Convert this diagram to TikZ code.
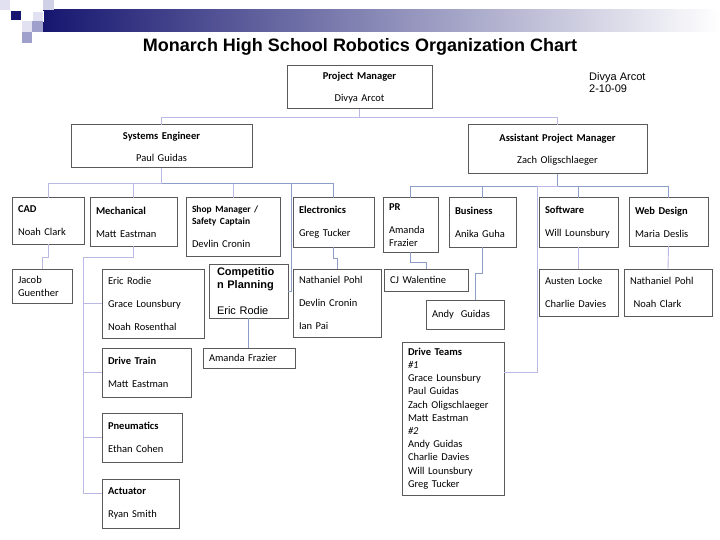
\documentclass[tikz,border=0pt]{standalone}
\usepackage{fontspec}
\setmainfont{Carlito}
\newfontfamily\arialfont{Liberation Sans}
\usepackage{tikz}
\usepackage{xcolor}

\definecolor{boxgray}{RGB}{90,90,90}
\definecolor{linkpale}{RGB}{185,185,228}
\definecolor{linkblue}{RGB}{140,158,200}
\definecolor{navybar}{RGB}{22,22,112}
\definecolor{sqpale}{RGB}{225,225,242}
\definecolor{sqmid}{RGB}{160,160,205}
\newcommand{\shophead}[1]{\textbf{\fontsize{9.5}{11}\selectfont #1}}

\begin{document}
\begin{tikzpicture}[x=1pt,y=-1pt,
	box/.style={draw=boxgray, line width=1pt, fill=white, anchor=north west, outer sep=0pt,
		inner xsep=6pt, inner ysep=0pt, align=left, font=\fontsize{10.5}{12}\selectfont},
	ctrbox/.style={box, align=center},
	link/.style={draw=linkpale, line width=0.9pt},
	linkb/.style={draw=linkblue, line width=0.9pt}]
	\fill[white] (0,0) rectangle (720,540);
	\useasboundingbox (0,0) rectangle (720,540);

	% corner squares and bar
	\shade[left color=navybar, right color=white] (43,10) rectangle (720,32);
	\fill[sqpale] (0,0) rectangle (10,10);
	\fill[navybar] (11,11) rectangle (21,20);
	\fill[sqmid!50] (43,0) rectangle (54,10);
	\fill[sqpale, draw=white] (32,11) rectangle (43,21);
	\fill[sqpale] (22,21) rectangle (32,32);
	\fill[sqmid] (32,21) rectangle (43,32);
	\fill[sqmid] (22,32) rectangle (32,43);

	\node[font=\arialfont\bfseries\fontsize{18}{20}\selectfont] (title) at (360,47) {Monarch High School Robotics Organization Chart};
	\node[font=\arialfont\fontsize{11}{12}\selectfont, align=left, anchor=north west, inner sep=0pt] (date) at (589,72) {Divya Arcot\\2-10-09};

	% top rows
	\node[ctrbox, text width=133pt, minimum height=43pt] (pm) at (287,66) {\textbf{Project Manager}\\[10pt]Divya Arcot};
	\node[ctrbox, text width=169pt, minimum height=43pt] (se) at (71,125) {\textbf{Systems Engineer}\\[10pt]Paul Guidas};
	\node[ctrbox, text width=167pt, minimum height=49pt] (apm) at (468,125) {\textbf{Assistant Project Manager}\\[10pt]Zach Oligschlaeger};

	\node[box, text width=60pt, minimum height=46pt] (cad) at (12,198) {\textbf{CAD}\\[11pt]Noah Clark};
	\node[box, text width=75pt, minimum height=48pt] (mech) at (90,198) {\textbf{Mechanical}\\[11pt]Matt Eastman};
	\node[box, text width=82pt, minimum height=58pt] (shop) at (186,198) {\shophead{Shop Manager /}\\\shophead{Safety Captain}\\[11pt]Devlin Cronin};
	\node[box, text width=69pt, minimum height=49pt] (elec) at (293,198) {\textbf{Electronics}\\[11pt]Greg Tucker};
	\node[box, text width=43pt, minimum height=54pt] (pr) at (383,198) {\textbf{PR}\\[11pt]Amanda\\[1pt]Frazier};
	\node[box, text width=55pt, minimum height=49pt] (business) at (449,198) {\textbf{Business}\\[11pt]Anika Guha};
	\node[box, text width=67pt, minimum height=49pt] (soft) at (539,198) {\textbf{Software}\\[11pt]Will~Lounsbury};
	\node[box, text width=67pt, minimum height=48pt] (web) at (629,198) {\textbf{Web Design}\\[11pt]Maria Deslis};

	% lower boxes
	\node[box, text width=48pt, minimum height=34pt] (jacob) at (12,269) {Jacob\\[1pt]Guenther};
	\node[box, text width=90pt, minimum height=69pt] (grp) at (102,269) {Eric Rodie\\[11pt]Grace Lounsbury\\[11pt]Noah Rosenthal};
	\node[box, text width=77pt, minimum height=49pt] (train) at (102,348) {\textbf{Drive Train}\\[11pt]Matt Eastman};
	\node[box, text width=68pt, minimum height=49pt] (pneu) at (102,413) {\textbf{Pneumatics}\\[11pt]Ethan Cohen};
	\node[box, text width=65pt, minimum height=49pt] (act) at (102,479) {\textbf{Actuator}\\[11pt]Ryan Smith};
	\node[box, text width=63pt, minimum height=54pt, inner xsep=8pt, font=\arialfont\fontsize{11}{13}\selectfont] (comp) at (209,264) {\textbf{Competitio}\\\textbf{n Planning}\\[13pt]Eric Rodie};
	\node[box, text width=80pt, minimum height=20pt] (amanda) at (203,348) {Amanda Frazier};
	\node[box, text width=76pt, minimum height=68pt] (pohl) at (293,269) {Nathaniel Pohl\\[11pt]Devlin Cronin\\[11pt]Ian Pai};
	\node[box, text width=72pt, minimum height=22pt] (cj) at (384,269) {CJ Walentine};
	\node[box, text width=66pt, minimum height=29pt] (andy) at (426,300) {Andy~~Guidas};
	\node[box, text width=67pt, minimum height=47pt] (aus) at (539,269) {Austen Locke\\[11pt]Charlie Davies};
	\node[box, text width=76pt, minimum height=47pt] (np2) at (624,269) {Nathaniel Pohl\\[11pt]~Noah Clark};
	\node[box, text width=90pt, minimum height=153pt, font=\fontsize{10.5}{13.2}\selectfont] (dteams) at (402,342) {\textbf{Drive Teams}\\\textit{\#1}\\Grace Lounsbury\\Paul Guidas\\Zach Oligschlaeger\\Matt Eastman\\\textit{\#2}\\Andy Guidas\\Charlie Davies\\Will Lounsbury\\Greg Tucker};

	% connectors
	\draw[link] (pm.south) -- ++(0,8) coordinate (pmbus) -| (se.north);
	\draw[link] (pmbus) -| (apm.north);
	\draw[link] (se.south) -- ++(0,15) coordinate (sebus);
	\foreach \n in {cad,mech,shop} \draw[link] (sebus) -| (\n.north);
	\draw[linkb] (sebus) -| (elec.north);
	\draw[linkb] (sebus) -| ([xshift=3pt]comp.east) -- (comp.east);
	\draw[linkb] (apm.south) -- ++(0,12) coordinate (apmbus);
	\foreach \n in {pr,business,soft,web} \draw[linkb] (apmbus) -| (\n.north);
	\draw[link] (apmbus) -| ([xshift=33pt,yshift=-30pt]dteams.north east) -- ([yshift=-30pt]dteams.north east);

	\draw[link] (cad.south) -- ++(0,13) -| (jacob.north);
	\draw[link] (mech.south) -- ++(0,11) -| ([xshift=-19pt,yshift=10pt]act.west) -- ([yshift=10pt]act.west);
	\foreach \n in {grp,train,pneu} \draw[link] (\n.west) -- ++(-19,0);
	\draw[linkb] (comp.south) -- (comp.south |- amanda.north);
	\draw[linkb] (elec.south) -- ++(0,11) -| (pohl.north);
	\draw[linkb] (pr.south) -- ++(0,10) -| (cj.north);
	\draw[linkb] (business.south) -- ++(0,26) -| ([xshift=10pt]andy.north);
	\draw[link] (soft.south) -- (aus.north);
	\draw[link] (web.south) -- (np2.north);
\end{tikzpicture}
\end{document}
